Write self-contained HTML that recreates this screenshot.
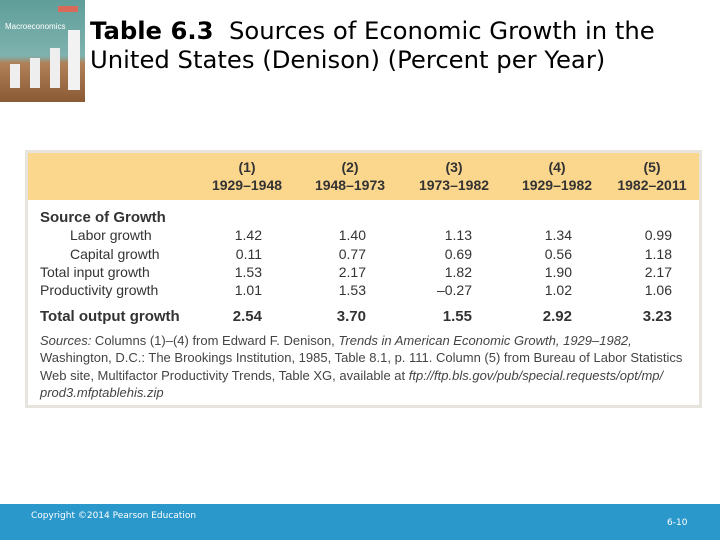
<!DOCTYPE html>
<html><head><meta charset="utf-8"><style>
body{margin:0;width:720px;height:540px;position:relative;background:#fff;overflow:hidden;font-family:"Liberation Sans",Arial,sans-serif}
.a{position:absolute;white-space:nowrap}
.t{font-size:14px;color:#333;line-height:17px}
.n{text-align:right;width:60px}
.h{text-align:center;width:100px;font-weight:bold;font-size:14px;color:#333;line-height:18px}
</style></head><body>
<div class="a" style="left:0;top:0;width:85px;height:102px;background:linear-gradient(180deg,#5f9e9a 0%,#7fb2ae 55%,#b08058 62%,#8a5a35 100%)">
  <div class="a" style="left:5px;top:22px;font-size:8px;color:#fff">Macroeconomics</div>
  <div class="a" style="left:58px;top:6px;width:20px;height:6px;background:#d96a5a"></div>
  <div class="a" style="left:10px;top:64px;width:10px;height:24px;background:#eee"></div>
  <div class="a" style="left:30px;top:58px;width:10px;height:30px;background:#eee"></div>
  <div class="a" style="left:50px;top:48px;width:10px;height:40px;background:#eee"></div>
  <div class="a" style="left:68px;top:30px;width:12px;height:60px;background:#f2f2f2"></div>
</div>
<div class="a" style="left:90px;top:16px;font-family:'DejaVu Sans',sans-serif;font-size:24.3px;line-height:29px;color:#000"><b>Table 6.3</b>&nbsp; Sources of Economic Growth in the<br>United States (Denison) (Percent per Year)</div>

<div class="a" style="left:25px;top:150px;width:671px;height:252px;border:3px solid #e6e4dc;background:#fff"></div>
<div class="a" style="left:28px;top:153px;width:671px;height:47px;background:#fbd68d"></div>

<div id="hdr"></div>
<div class="a t" style="left:40px;top:209px;font-weight:bold;font-size:15px">Source of Growth</div>
<div class="a t" style="left:70px;top:227px">Labor growth</div>
<div class="a t" style="left:70px;top:246px">Capital growth</div>
<div class="a t" style="left:40px;top:264px">Total input growth</div>
<div class="a t" style="left:40px;top:282px">Productivity growth</div>
<div class="a t" style="left:40px;top:308px;font-weight:bold;font-size:15px">Total output growth</div>
<div id="cells"></div>

<div class="a" style="left:40px;top:332px;font-size:13px;line-height:17.3px;color:#444"><i>Sources:</i> Columns (1)–(4) from Edward F. Denison, <i>Trends in American Economic Growth, 1929–1982,</i><br>Washington, D.C.: The Brookings Institution, 1985, Table 8.1, p. 111. Column (5) from Bureau of Labor Statistics<br>Web site, Multifactor Productivity Trends, Table XG, available at <i>ftp://ftp.bls.gov/pub/special.requests/opt/mp/</i><br><i>prod3.mfptablehis.zip</i></div>

<div class="a" style="left:0;top:504px;width:720px;height:36px;background:#2b98cc"></div>
<div class="a" style="left:31px;top:511px;font-size:9px;color:#fff;font-family:'DejaVu Sans',sans-serif">Copyright ©2014 Pearson Education</div>
<div class="a" style="left:667px;top:518px;font-size:9px;color:#fff;font-family:'DejaVu Sans',sans-serif">6-10</div>

<script>
const colNums=["(1)","(2)","(3)","(4)","(5)"];
const periods=["1929–1948","1948–1973","1973–1982","1929–1982","1982–2011"];
const labor=["1.42","1.40","1.13","1.34","0.99"];
const capital=["0.11","0.77","0.69","0.56","1.18"];
const totalInput=["1.53","2.17","1.82","1.90","2.17"];
const productivity=["1.01","1.53","–0.27","1.02","1.06"];
const totalOutput=["2.54","3.70","1.55","2.92","3.23"];
const centers=[247,350,454,557,652];
const rights=[262,366,472,572,672];
const hdr=document.getElementById('hdr');
colNums.forEach((c,i)=>{
  const d=document.createElement('div');
  d.className='a h';
  d.style.left=(centers[i]-50)+'px';d.style.top='158px';
  d.innerHTML=c+'<br>'+periods[i];
  
  
  hdr.appendChild(d);
});
const rows=[[labor,227,false,'labor'],[capital,246,false,'capital'],[totalInput,264,false,'total-input'],[productivity,282,false,'productivity'],[totalOutput,308,true,'total-output']];
const cells=document.getElementById('cells');
rows.forEach(r=>{
  r[0].forEach((v,i)=>{
    const d=document.createElement('div');
    d.className='a t n';
    d.style.left=(rights[i]-60)+'px';d.style.top=r[1]+'px';
    if(r[2]){d.style.fontWeight='bold';d.style.fontSize='15px';}
    d.textContent=v;
    
    
    cells.appendChild(d);
  });
});
</script>
</body></html>
